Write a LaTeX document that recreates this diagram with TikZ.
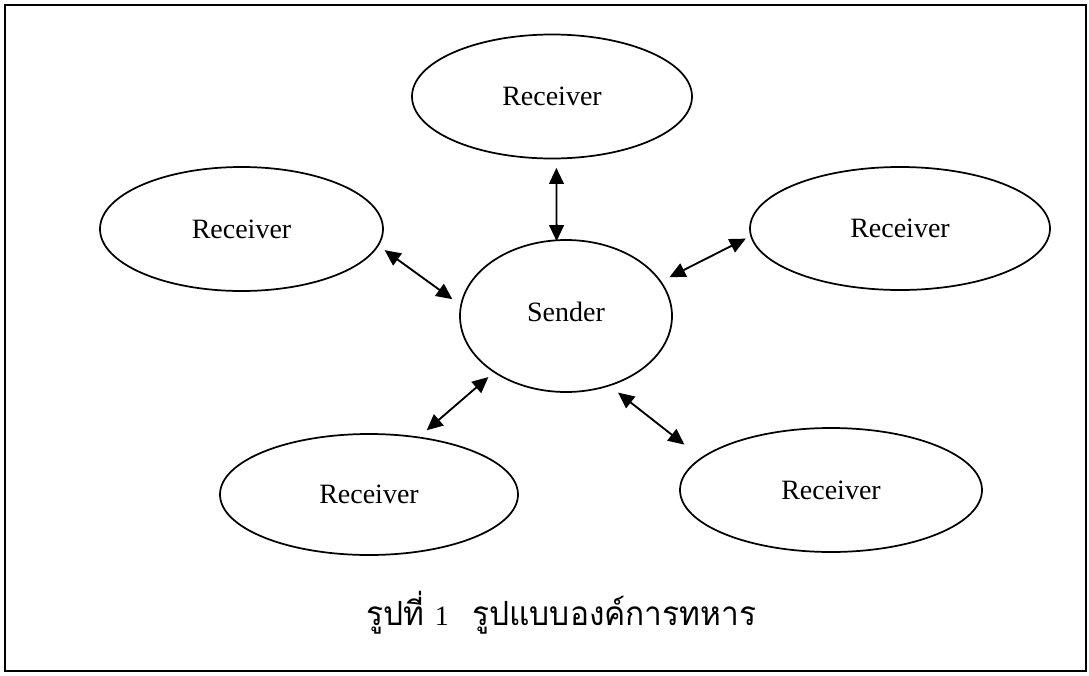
\documentclass[tikz,border=0pt]{standalone}
\usepackage{fontspec}
\setmainfont{Liberation Serif}
\newfontfamily\thaifont[Script=Thai,FakeStretch=0.95]{Loma}
\usetikzlibrary{arrows.meta,shapes.geometric}

\begin{document}
\begin{tikzpicture}[x=0.75pt,y=-0.75pt,
  party/.style={draw, ellipse, line width=1.3pt, inner sep=0pt,
    font=\fontsize{21}{25}\selectfont},
  link/.style={line width=1.4pt,
    {Triangle[length=12pt,width=11pt]}-{Triangle[length=12pt,width=11pt]}},
  caption/.style={inner sep=0pt, anchor=base west,
    font=\thaifont\fontsize{25}{30}\selectfont}]
\useasboundingbox (0,0) rectangle (1089,675);
% outer frame
\draw[line width=1.5pt] (5,5) rectangle (1086,671);

% sender in the middle, receivers around it
\node[party, minimum width=159pt, minimum height=114pt] (S) at (566,316) {\raisebox{6pt}{Sender}};
\node[party, minimum width=210pt, minimum height=93pt] (T) at (552,96.5) {Receiver};
\node[party, minimum width=212.25pt, minimum height=93pt] (L) at (241.5,229) {Receiver};
\node[party, minimum width=225pt, minimum height=92.25pt] (R) at (900,228.5) {Receiver};
\node[party, minimum width=223.5pt, minimum height=90.75pt] (BL) at (369,494.5) {Receiver};
\node[party, minimum width=226.5pt, minimum height=93pt] (BR) at (831,490) {Receiver};

% two-way links
\draw[link, shorten <=-1.3pt, shorten >=6.4pt] (S.97.5) -- (T.-86.3);
\draw[link, shorten <=7.3pt, shorten >=5.5pt] (S.174.3) -- (L.-7.5);
\draw[link, shorten <=6.75pt, shorten >=3.8pt] (S.20.6) -- (R.183.6);
\draw[link, shorten <=5.2pt, shorten >=7.4pt] (S.218.7) -- (BL.49.8);
\draw[link, shorten <=7.9pt, shorten >=15.75pt] (S.-58.4) -- (BR.166.1);

% caption
\node[caption] (c1) at (366,625) {รูปที่ {\rmfamily\fontsize{21}{25}\selectfont 1}};
\node[caption] (c2) at (472,625) {รูปแบบองค์การทหาร};
\end{tikzpicture}
\end{document}
